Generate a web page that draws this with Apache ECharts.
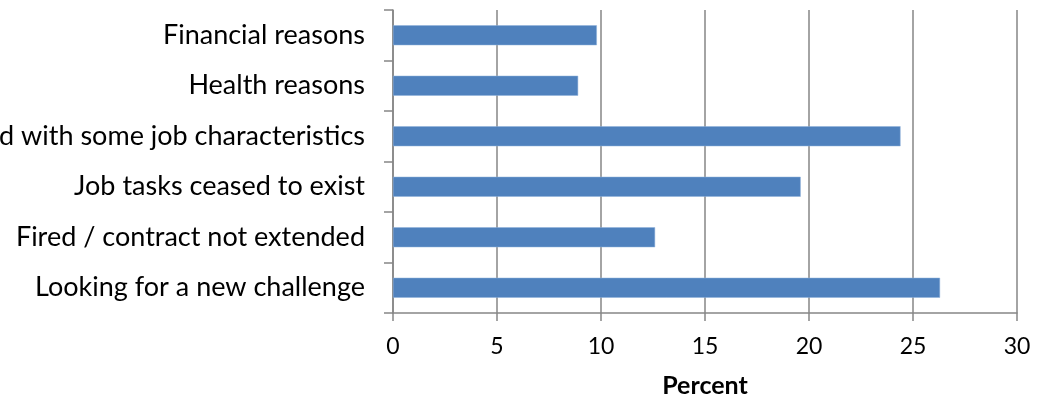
<!DOCTYPE html>
<html><head><meta charset="utf-8">
<script src="https://cdn.jsdelivr.net/npm/echarts@6/dist/echarts.min.js"></script>
<style>html,body{margin:0;padding:0;background:#fff}#c{width:1038px;height:396px}</style>
</head><body><div id="c"></div>
<script>
const categories = ["Looking for a new challenge","Fired / contract not extended","Job tasks ceased to exist","Dissatisfied with some job characteristics","Health reasons","Financial reasons"];
const percentValues = [26.3, 12.6, 19.6, 24.4, 8.9, 9.8];
const xTicks = [0, 5, 10, 15, 20, 25, 30];
const xAxisTitle = "Percent";

const chart = echarts.init(document.getElementById('c'), null, {renderer:'canvas'});
const font = "Lato, 'Open Sans', sans-serif";
chart.setOption({
  animation:false,
  grid:{left:393,right:21,top:10,bottom:83,containLabel:false,outerBoundsMode:'none'},
  xAxis:{type:'value',min:xTicks[0],max:xTicks[xTicks.length-1],interval:5,
    name:xAxisTitle,nameLocation:'middle',nameGap:60,
    nameTextStyle:{fontFamily:font,fontSize:25,fontWeight:'bold',color:'#000'},
    axisLine:{show:true,lineStyle:{color:'#868686',width:1.5}},
    axisTick:{show:true,length:8,lineStyle:{color:'#868686',width:1.5}},
    axisLabel:{fontFamily:font,fontSize:23,color:'#000',margin:22},
    splitLine:{show:true,lineStyle:{color:'#868686',width:1.5}}},
  yAxis:{type:'category',data:categories,
    axisLine:{show:true,lineStyle:{color:'#868686',width:1.5}},
    axisTick:{show:true,length:9,lineStyle:{color:'#868686',width:1.5}},
    axisLabel:{fontFamily:font,fontSize:27,color:'#000',margin:28},
    splitLine:{show:false}},
  series:[{type:'bar',data:percentValues,barWidth:20,
    itemStyle:{color:'#4F81BD',borderColor:'#8FB0DA',borderWidth:0.5}}]
});
</script></body></html>
